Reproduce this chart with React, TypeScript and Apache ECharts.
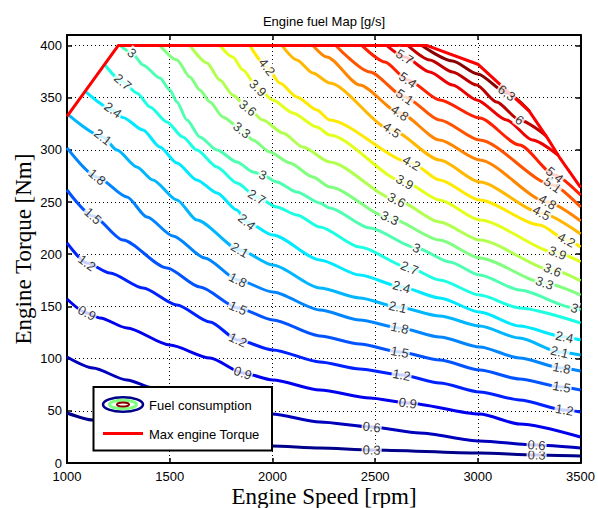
import React, { useEffect, useRef } from "react";
import * as echarts from "echarts";

// ---- axes ----
const speedMin = 1000;
const speedMax = 3500;
const speedStep = 500;
const torqueMin = 0;
const torqueMax = 410;
const torqueStep = 50;

// ---- contour levels [g/s] ----
const levels = [0.3, 0.6, 0.9, 1.2, 1.5, 1.8, 2.1, 2.4, 2.7, 3, 3.3, 3.6, 3.9, 4.2, 4.5, 4.8, 5.1, 5.4, 5.7, 6, 6.3];

// ---- contour lines: [speed rpm, torque Nm] ----
const fuel03 = [[1000, 47.9], [1126, 41.2], [1550, 24.9], [1997, 16.3], [2231, 14.4], [2483, 12.5], [3009, 9.6], [3286, 7.7], [3500, 6.7]];
const fuel06 = [[1000, 101.5], [1126, 91.0], [1292, 79.5], [1418, 71.9], [1696, 58.4], [1997, 46.9], [2231, 39.3], [2483, 34.5], [2717, 28.7], [3009, 21.1], [3286, 17.2], [3500, 14.4]];
const fuel09 = [[1000, 157.1], [1097, 143.7], [1161, 138.9], [1292, 129.3], [1501, 113.0], [1696, 100.6], [1856, 86.2], [2002, 79.5], [2231, 69.9], [2474, 62.3], [2659, 57.5], [3009, 46.9], [3203, 37.4], [3500, 24.9]];
const fuel12 = [[1000, 210.8], [1097, 191.6], [1209, 182.0], [1370, 167.6], [1535, 151.4], [1696, 135.1], [1832, 117.8], [2002, 108.3], [2231, 96.8], [2425, 90.1], [2629, 84.3], [2814, 76.6], [3009, 68.0], [3203, 60.4], [3422, 50.8], [3500, 48.9]];
const fuel15 = [[1000, 261.5], [1126, 236.6], [1272, 213.6], [1486, 186.8], [1647, 168.6], [1832, 148.5], [2002, 137.0], [2231, 121.7], [2425, 114.0], [2620, 106.3], [2814, 98.7], [3009, 89.1], [3203, 80.5], [3408, 72.8], [3500, 69.9]];
const fuel18 = [[1000, 301.8], [1146, 274.0], [1292, 254.8], [1389, 235.7], [1516, 217.5], [1671, 196.4], [1832, 175.3], [2002, 163.8], [2231, 146.6], [2425, 137.0], [2620, 129.3], [2814, 120.7], [3009, 111.1], [3203, 100.6], [3408, 91.0], [3500, 88.1]];
const fuel21 = [[1010, 333.0], [1175, 312.3], [1243, 299.8], [1340, 283.6], [1418, 271.1], [1535, 251.9], [1632, 232.8], [1841, 204.1], [2002, 189.7], [2231, 167.6], [2425, 158.1], [2610, 149.4], [2814, 140.8], [3009, 131.2], [3203, 119.7], [3398, 106.3], [3500, 103.5]];
const fuel24 = [[1092, 355.4], [1224, 338.2], [1272, 331.0], [1370, 319.0], [1452, 302.7], [1535, 287.4], [1632, 271.1], [1730, 258.7], [1827, 242.4], [1875, 230.9], [2002, 218.4], [2231, 194.5], [2425, 180.1], [2629, 168.6], [2814, 158.1], [3009, 144.6], [3203, 131.2], [3422, 120.7], [3500, 117.8]];
const fuel27 = [[1185, 381.3], [1272, 365.0], [1340, 354.5], [1404, 341.0], [1486, 326.7], [1564, 312.3], [1632, 299.8], [1730, 283.6], [1827, 268.2], [1924, 254.8], [2021, 245.2], [2119, 237.6], [2231, 226.1], [2425, 206.9], [2668, 186.8], [2814, 175.3], [3009, 160.9], [3203, 148.5], [3500, 134.1]];
const fuel30 = [[1258, 400], [1316, 392.8], [1370, 381.3], [1452, 368.8], [1501, 357.3], [1535, 345.8], [1584, 328.6], [1647, 312.3], [1730, 299.8], [1827, 288.4], [1905, 278.8], [1953, 275.9], [2021, 269.2], [2119, 259.6], [2231, 249.1], [2279, 244.3], [2474, 225.1], [2702, 206.0], [2863, 192.6], [3009, 180.1], [3203, 165.7], [3471, 148.5], [3500, 146.6]];
const fuel33 = [[1452, 400], [1535, 386.1], [1598, 369.8], [1647, 357.3], [1696, 345.8], [1759, 331.5], [1851, 319.0], [1905, 309.4], [1987, 297.9], [2085, 287.4], [2197, 274.0], [2279, 264.4], [2571, 234.7], [2814, 213.6], [3009, 196.4], [3325, 172.4], [3500, 160.9]];
const fuel36 = [[1598, 400], [1681, 383.2], [1744, 366.9], [1807, 352.6], [1880, 340.1], [1953, 328.6], [2051, 316.1], [2148, 302.7], [2279, 288.4], [2605, 251.9], [2814, 230.9], [3009, 213.6], [3364, 184.9], [3500, 174.4]];
const fuel39 = [[1744, 400], [1807, 388.9], [1856, 376.5], [1929, 359.3], [2002, 347.8], [2099, 335.3], [2216, 321.9], [2279, 314.2], [2644, 269.2], [2814, 251.9], [3009, 232.8], [3388, 201.2], [3500, 192.6]];
const fuel42 = [[1890, 400], [1973, 379.4], [2036, 364.0], [2119, 350.7], [2216, 338.2], [2279, 328.6], [2678, 287.4], [2814, 271.1], [3009, 251.9], [3301, 228.0], [3432, 213.6], [3500, 206.9]];
const fuel45 = [[2046, 400], [2119, 386.1], [2197, 373.6], [2279, 364.0], [2581, 319.0], [2814, 290.3], [3009, 269.2], [3310, 239.5], [3500, 219.4]];
const fuel48 = [[2197, 400], [2265, 388.9], [2425, 362.1], [2620, 335.3], [2814, 309.4], [3009, 290.3], [3339, 250.0], [3500, 231.8]];
const fuel51 = [[2308, 400], [2474, 374.6], [2644, 350.7], [2814, 328.6], [3009, 309.4], [3364, 266.3], [3500, 245.2]];
const fuel54 = [[2435, 400], [2547, 384.2], [2659, 366.9], [2814, 347.8], [3009, 330.5], [3203, 304.6], [3374, 275.9], [3500, 256.7]];
const fuel57 = [[2556, 400], [2644, 388.9], [2766, 374.6], [2877, 362.1], [2994, 347.8], [3140, 328.6], [3266, 309.4], [3390, 295.0]];
const fuel60 = [[2659, 400], [2766, 386.1], [2877, 374.6], [2994, 362.1], [3091, 345.8], [3203, 328.6], [3335, 313.0]];
const fuel63 = [[2727, 400], [2877, 385.1], [2999, 372.7], [3140, 354.5], [3252, 337.0]];

const contourLines = [fuel03, fuel06, fuel09, fuel12, fuel15, fuel18, fuel21, fuel24, fuel27, fuel30, fuel33, fuel36, fuel39, fuel42, fuel45, fuel48, fuel51, fuel54, fuel57, fuel60, fuel63];

// ---- speeds [rpm] at which each level carries an inline label ----
const labelSpeeds = [
  [2483, 3286],
  [2483, 3286],
  [1097, 1856, 2659],
  [1097, 1832, 2629, 3422],
  [1126, 1832, 2620, 3408],
  [1146, 1832, 2620, 3408],
  [1175, 1841, 2610, 3398],
  [1224, 1875, 2629, 3422],
  [1272, 1924, 2668],
  [1316, 1953, 2702, 3471],
  [1851, 2571, 3325],
  [1880, 2605, 3364],
  [1929, 2644, 3388],
  [1973, 2678, 3432],
  [2581, 3310],
  [2620, 3339],
  [2644, 3364],
  [2659, 3374],
  [2644],
  [3203],
  [3140],
];

// ---- max engine torque curve ----
const maxTorque = [[1000, 332], [1250, 400], [2750, 400], [3000, 382], [3250, 337], [3340, 311], [3400, 292], [3500, 264]];

// ---- layout (style) ----
const W = 598;
const H = 508;
const gridLeft = 67;
const gridTop = 35;
const gridRight = 16.5;
const gridBottom = 45;
const plotW = W - gridLeft - gridRight;
const plotH = H - gridTop - gridBottom;
const pxPerRpm = plotW / (speedMax - speedMin);
const pxPerNm = plotH / (torqueMax - torqueMin);

function jet(t: number): string {
  const c = (v: number) => Math.max(0, Math.min(1, v));
  const r = c(1.5 - Math.abs(4 * t - 3));
  const g = c(1.5 - Math.abs(4 * t - 2));
  const b = c(1.5 - Math.abs(4 * t - 1));
  const h = (v: number) => Math.round(v * 255).toString(16).padStart(2, "0");
  return "#" + h(r) + h(g) + h(b);
}
const levelColor = (i: number) => jet(0.01 + i * 0.049);

function interp(line: number[][], r: number): number {
  if (r <= line[0][0]) return line[0][1];
  for (let i = 0; i < line.length - 1; i++) {
    const a = line[i];
    const b = line[i + 1];
    if (r >= a[0] && r <= b[0]) {
      const f = (r - a[0]) / (b[0] - a[0]);
      return a[1] + f * (b[1] - a[1]);
    }
  }
  return line[line.length - 1][1];
}

export default function App() {
  const ref = useRef<HTMLDivElement>(null);
  useEffect(() => {
    if (!ref.current) return;
    const chart = echarts.init(ref.current, undefined, { renderer: "svg" });

    const contourSeries = contourLines.map((line, i) => ({
      type: "line",
      name: "c" + levels[i],
      data: line,
      showSymbol: false,
      symbol: "none",
      smooth: 0.25,
      smoothMonotone: "x",
      silent: true,
      z: 2,
      lineStyle: { color: levelColor(i), width: 3 },
    }));

    const labelData: any[] = [];
    labelSpeeds.forEach((speeds, i) => {
      const line = contourLines[i];
      speeds.forEach((r) => {
        const t = interp(line, r);
        const r1 = Math.max(line[0][0], r - 45);
        const r2 = Math.min(line[line.length - 1][0], r + 45);
        const dy = (interp(line, r2) - interp(line, r1)) * pxPerNm;
        const dx = (r2 - r1) * pxPerRpm;
        const rot = (Math.atan2(dy, dx) * 180) / Math.PI;
        labelData.push({
          value: [r, t],
          label: { formatter: String(levels[i]), rotate: rot },
        });
      });
    });

    const axisFont = { color: "#000", fontSize: 13, fontFamily: "Liberation Sans, Arial, sans-serif" };
    const gridDots = { color: "#000", width: 1, type: [1, 3] };

    const option: any = {
      animation: false,
      backgroundColor: "#fff",
      grid: { left: gridLeft, top: gridTop, right: gridRight, bottom: gridBottom, containLabel: false },
      xAxis: [
        {
          type: "value",
          min: speedMin,
          max: speedMax,
          interval: speedStep,
          position: "bottom",
          axisLine: { show: true, onZero: false, lineStyle: { color: "#000", width: 2 } },
          axisTick: { show: true, inside: true, length: 5, lineStyle: { color: "#000", width: 1.5 } },
          axisLabel: { ...axisFont, margin: 7, formatter: (v: number) => String(v) },
          splitLine: { show: true, lineStyle: gridDots },
        },
        {
          type: "value",
          min: speedMin,
          max: speedMax,
          interval: speedStep,
          position: "top",
          axisLine: { show: true, onZero: false, lineStyle: { color: "#000", width: 2 } },
          axisTick: { show: true, inside: true, length: 5, lineStyle: { color: "#000", width: 1.5 } },
          axisLabel: { show: false },
          splitLine: { show: false },
        },
      ],
      yAxis: [
        {
          type: "value",
          min: torqueMin,
          max: torqueMax,
          interval: torqueStep,
          position: "left",
          axisLine: { show: true, onZero: false, lineStyle: { color: "#000", width: 2 } },
          axisTick: { show: true, inside: true, length: 5, lineStyle: { color: "#000", width: 1.5 } },
          axisLabel: { ...axisFont, margin: 5, formatter: (v: number) => (v % torqueStep === 0 ? String(v) : "") },
          splitLine: { show: true, lineStyle: gridDots },
        },
        {
          type: "value",
          min: torqueMin,
          max: torqueMax,
          interval: torqueStep,
          position: "right",
          axisLine: { show: true, onZero: false, lineStyle: { color: "#000", width: 2 } },
          axisTick: { show: true, inside: true, length: 5, lineStyle: { color: "#000", width: 1.5 } },
          axisLabel: { show: false },
          splitLine: { show: false },
        },
      ],
      series: [
        ...contourSeries,
        {
          type: "line",
          name: "Max engine Torque",
          data: maxTorque,
          showSymbol: false,
          symbol: "none",
          silent: true,
          z: 4,
          lineStyle: { color: "#ff0000", width: 3 },
        },
        {
          type: "scatter",
          name: "labels",
          data: labelData,
          symbolSize: 1,
          itemStyle: { color: "rgba(0,0,0,0)" },
          silent: true,
          z: 6,
          label: {
            show: true,
            position: "inside",
            color: "#000",
            fontSize: 13,
            fontFamily: "Liberation Sans, Arial, sans-serif",
            backgroundColor: "#fff",
            padding: [0, 1],
          },
        },
      ],
      graphic: [
        {
          type: "text",
          x: 324,
          y: 21,
          z: 100,
          style: {
            text: "Engine fuel Map [g/s]",
            fill: "#000",
            font: "13px 'Liberation Sans', Arial, sans-serif",
            textAlign: "center",
            textVerticalAlign: "middle",
          },
        },
        {
          type: "text",
          x: 324,
          y: 496,
          z: 100,
          style: {
            text: "Engine Speed [rpm]",
            fill: "#000",
            font: "23px 'Liberation Serif', 'Times New Roman', serif",
            textAlign: "center",
            textVerticalAlign: "middle",
          },
        },
        {
          type: "text",
          x: 23,
          y: 249,
          rotation: Math.PI / 2,
          z: 100,
          style: {
            text: "Engine Torque [Nm]",
            fill: "#000",
            font: "23px 'Liberation Serif', 'Times New Roman', serif",
            textAlign: "center",
            textVerticalAlign: "middle",
          },
        },
        {
          type: "group",
          z: 100,
          children: [
            {
              type: "rect",
              z: 100,
              shape: { x: 93.5, y: 387, width: 178.5, height: 63.5 },
              style: { fill: "#fff", stroke: "#000", lineWidth: 2 },
            },
            {
              type: "ellipse",
              z: 101,
              shape: { cx: 123, cy: 404.5, rx: 20, ry: 7.2 },
              style: { fill: "none", stroke: levelColor(0), lineWidth: 2.5 },
            },
            {
              type: "ellipse",
              z: 101,
              shape: { cx: 123, cy: 404.5, rx: 13.5, ry: 4.3 },
              style: { fill: "none", stroke: levelColor(10), lineWidth: 3 },
            },
            {
              type: "ellipse",
              z: 101,
              shape: { cx: 123, cy: 404.5, rx: 6, ry: 2 },
              style: { fill: "none", stroke: levelColor(20), lineWidth: 2 },
            },
            {
              type: "text",
              z: 101,
              x: 149,
              y: 405,
              style: {
                text: "Fuel consumption",
                fill: "#000",
                font: "13px 'Liberation Sans', Arial, sans-serif",
                textVerticalAlign: "middle",
              },
            },
            {
              type: "line",
              z: 101,
              shape: { x1: 103, y1: 433.5, x2: 143, y2: 433.5 },
              style: { stroke: "#ff0000", lineWidth: 3 },
            },
            {
              type: "text",
              z: 101,
              x: 149,
              y: 434,
              style: {
                text: "Max engine Torque",
                fill: "#000",
                font: "13px 'Liberation Sans', Arial, sans-serif",
                textVerticalAlign: "middle",
              },
            },
          ],
        },
      ],
    };

    chart.setOption(option);
    return () => chart.dispose();
  }, []);

  return (
    <div
      ref={ref}
      style={{ position: "absolute", left: 0, top: 0, width: W, height: H, background: "#fff" }}
    />
  );
}
